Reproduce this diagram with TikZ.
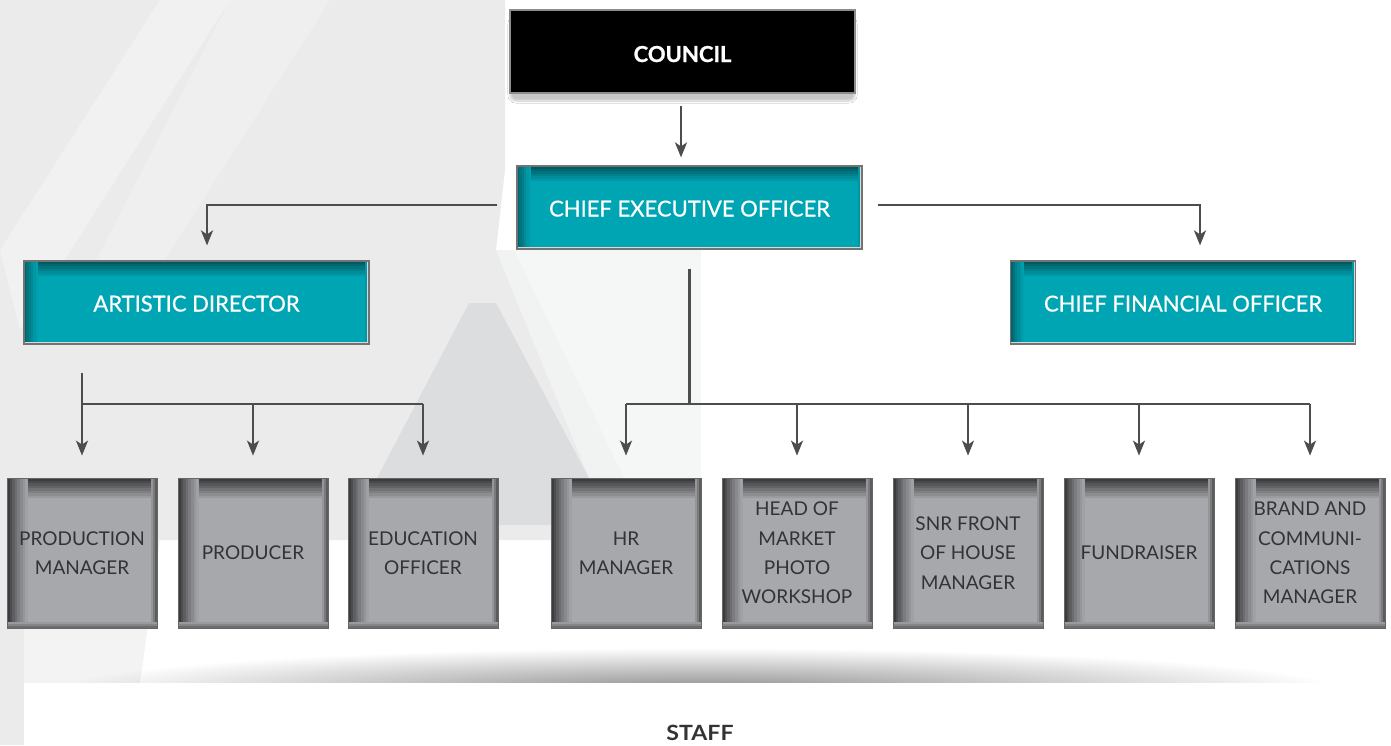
\documentclass[tikz,border=0pt]{standalone}
\usepackage{fontspec}
\setmainfont{Lato}
\newfontfamily\latomed[FakeBold=0.6]{Lato}
\newfontfamily\latoheavy[BoldFeatures={FakeBold=0.9}]{Lato}
\usetikzlibrary{arrows.meta,fadings,shadows.blur,calc}
\definecolor{bgA}{HTML}{EBEBEC}
\definecolor{bgL}{HTML}{F5F6F6}
\definecolor{bgB}{HTML}{F1F2F2}
\definecolor{bgT}{HTML}{DCDDDF}
\definecolor{tealc}{HTML}{00A5B4}
\definecolor{tealdk}{HTML}{005A62}
\definecolor{grayc}{HTML}{A7A8AB}
\definecolor{graydk}{HTML}{3C3C3E}
\definecolor{textc}{HTML}{333335}
\definecolor{arrowc}{HTML}{4D4D4F}
\tikzfading[name=softoval, inner color=transparent!10, outer color=transparent!100]
% stepped bevel strips inside a node (used in path picture)
\newcommand\bvtop[4]{\foreach \k in {1,...,#3}{%
  \pgfmathsetmacro\oa{(\k-1)*#4}\pgfmathsetmacro\ob{\k*#4}\pgfmathsetmacro\mx{100*(#3-\k+1)/#3}%
  \fill[#1!\mx!#2] ([yshift=-\oa pt]path picture bounding box.north west) rectangle ([yshift=-\ob pt]path picture bounding box.north east);}}
\newcommand\bvleft[4]{\foreach \k in {1,...,#3}{%
  \pgfmathsetmacro\oa{(\k-1)*#4}\pgfmathsetmacro\ob{\k*#4}\pgfmathsetmacro\mx{100*((#3-\k+1)/#3)^1.3}%
  \fill[#1!\mx!#2] ([xshift=\oa pt]path picture bounding box.north west) rectangle ([xshift=\ob pt]path picture bounding box.south west);}}
\newcommand\bvright[4]{\foreach \k in {1,...,#3}{%
  \pgfmathsetmacro\oa{(\k-1)*#4}\pgfmathsetmacro\ob{\k*#4}\pgfmathsetmacro\mx{100*((#3-\k+1)/#3)^1.3}%
  \fill[#1!\mx!#2] ([xshift=-\oa pt]path picture bounding box.north east) rectangle ([xshift=-\ob pt]path picture bounding box.south east);}}
\newcommand\bvbottom[4]{\foreach \k in {1,...,#3}{%
  \pgfmathsetmacro\oa{(\k-1)*#4}\pgfmathsetmacro\ob{\k*#4}\pgfmathsetmacro\mx{100*((#3-\k+1)/#3)^1.3}%
  \fill[#1!\mx!#2] ([yshift=\oa pt]path picture bounding box.south west) rectangle ([yshift=\ob pt]path picture bounding box.south east);}}
\begin{document}
\begin{tikzpicture}[x=1pt,y=-1pt,
  councilbox/.style={rectangle, inner sep=0pt, minimum width=345pt, minimum height=83pt,
    fill=black, draw=black!45, line width=1.5pt, text=white,
    text height=21pt, text depth=0pt,
    font=\latoheavy\bfseries\fontsize{22}{26}\selectfont,
    blur shadow={shadow blur steps=10, shadow xshift=0pt, shadow yshift=-8pt, shadow opacity=22, shadow blur extra rounding=6pt}},
  tealbox/.style={rectangle, inner sep=0pt, minimum width=345pt, minimum height=83pt,
    fill=tealc, draw=black!55, line width=1.2pt, text=white, align=center,
    text height=18pt, text depth=0pt,
    font=\latomed\fontsize{22}{26}\selectfont,
    path picture={\bvtop{tealdk}{tealc}{6}{2.5}\bvleft{tealdk!85!tealc}{tealc}{6}{2.3}%
      \bvright{tealdk!45!tealc}{tealc}{2}{2}%
      \fill[black!15] ([yshift=1.6pt]path picture bounding box.south west) rectangle (path picture bounding box.south east);
      \fill[black!15] ([xshift=-1.6pt]path picture bounding box.north east) rectangle (path picture bounding box.south east);}},
  graybox/.style={rectangle, inner sep=0pt, minimum width=150pt, minimum height=150pt,
    fill=grayc, draw=black!60, line width=0.8pt, text=textc, align=center,
    font=\fontsize{19}{29.3}\selectfont,
    path picture={\bvtop{graydk}{grayc}{8}{2.5}\bvleft{graydk}{grayc}{8}{2.6}%
      \bvright{graydk!70!grayc}{grayc}{3}{2}\bvbottom{graydk!55!grayc}{grayc}{3}{2}}},
  conn/.style={draw=arrowc, line width=2.2pt},
  arr/.style={conn, -{Stealth[length=15pt,width=12pt,inset=4pt]}}
]
\useasboundingbox (0,0) rectangle (1391,745);
% ---------- background ----------
\fill[white] (0,0) rectangle (1391,745);
\fill[bgL] (500,250) rectangle (701,478);
\fill[bgA] (0,0) -- (505,0) -- (505,170) -- (496,250) -- (590,480) -- (600,540) -- (0,540) -- cycle;
\fill[bgB] (496,250) -- (514,250) -- (625,480) -- (630,520) -- (600,540) -- (590,480) -- cycle;
\fill[bgT] (469,303) -- (496,303) -- (590,480) -- (600,525) -- (352,525) -- (376,480) -- cycle;
\fill[bgA] (0,540) rectangle (24,745);
\fill[bgA!60!white] (24,540) -- (160,540) -- (140,683) -- (24,683) -- cycle;
\fill[white, opacity=0.3] (0,250) -- (160,0) -- (230,0) -- (20,330) -- cycle;
\fill[white, opacity=0.22] (230,0) -- (330,0) -- (120,330) -- (60,330) -- cycle;
% shadow above staff band
\begin{scope}
  \clip (0,630) rectangle (1391,683);
  \fill[black!50, path fading=softoval] (700,690) ellipse (640 and 42);
\end{scope}
\fill[white] (24,683) rectangle (1391,745);
% ---------- nodes ----------
\node[councilbox] (council) at (682.5,51.5) {COUNCIL};
\node[tealbox] (ceo) at (689.5,207.5) {CHIEF EXECUTIVE OFFICER};
\node[tealbox] (ad) at (196.5,302.5) {ARTISTIC DIRECTOR};
\node[tealbox] (cfo) at (1183,302.5) {CHIEF FINANCIAL OFFICER};
\node[graybox] (prod) at (82,553) {PRODUCTION\\MANAGER};
\node[graybox] (producer) at (253,553) {PRODUCER};
\node[graybox] (edu) at (423,553) {EDUCATION\\OFFICER};
\node[graybox] (hr) at (626,553) {HR\\MANAGER};
\node[graybox] (head) at (797,553) {HEAD OF\\MARKET\\PHOTO\\WORKSHOP};
\node[graybox] (snr) at (968,553) {SNR FRONT\\OF HOUSE\\MANAGER};
\node[graybox] (fund) at (1139,553) {FUNDRAISER};
\node[graybox] (brand) at (1310,553) {BRAND AND\\COMMUNI-\\CATIONS\\MANAGER};
\node[anchor=base, text=textc, font=\bfseries\fontsize{21}{24}\selectfont] (staff) at (700,740) {\scalebox{1.1}[1]{STAFF}};
% ---------- connectors ----------
\draw[arr] ([xshift=-1.5pt,yshift=-12pt]council.south) -- ([xshift=-1.5pt,yshift=8pt]council.south |- ceo.north);
\draw[arr] ([xshift=-19pt,yshift=2.5pt]ceo.west) -| ([xshift=10.5pt,yshift=15pt]ad.north);
\draw[arr] ([xshift=15pt,yshift=2.5pt]ceo.east) -| ([xshift=17pt,yshift=15pt]cfo.north);
\coordinate (busR) at (689,404);
\coordinate (busL) at (82,404);
\draw[conn] ([yshift=-19pt]ceo.south) -- (ceo.south |- busR);
\draw[conn] (hr.north |- busR) -- (brand.north |- busR);
\foreach \n in {hr,head,snr,fund,brand}
  \draw[arr] (\n.north |- busR) -- ([yshift=22pt]\n.north);
\coordinate (adout) at ([yshift=-28pt]ad.south);
\draw[arr] (adout -| prod.north) -- ([yshift=22pt]prod.north);
\draw[conn] (prod.north |- busL) -- (edu.north |- busL);
\foreach \n in {producer,edu}
  \draw[arr] (\n.north |- busL) -- ([yshift=22pt]\n.north);
\end{tikzpicture}
\end{document}
